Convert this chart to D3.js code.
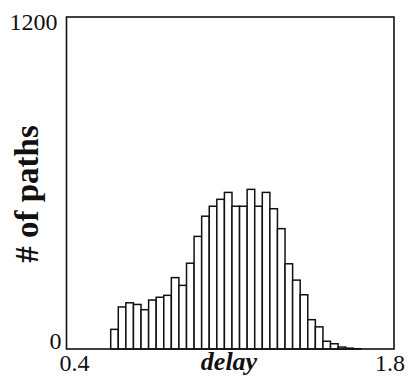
<!DOCTYPE html>
<html>
<head>
<meta charset="utf-8">
<script src="https://cdn.jsdelivr.net/npm/d3@7"></script>
<style>
  body { margin: 0; background: #fff; }
  svg text { font-family: "Liberation Serif", "DejaVu Serif", serif; fill: #111; }
</style>
</head>
<body>
<div id="chart"></div>
<script>
// histogram of path delays
const binStart = 0.589;
const binWidth = 0.0324;
const counts = [71, 152, 167, 161, 142, 177, 187, 194, 258, 230, 310, 407, 480, 516, 541, 566,
  516, 516, 577, 516, 566, 507, 435, 308, 249, 196, 106, 80, 28, 19, 7, 3, 1];
const xTicks = [0.4, 1.8];
const yTicks = [0, 1200];

const width = 409, height = 377;
const margin = { left: 66.5, right: 15, top: 17, bottom: 28 };

const svg = d3.select('#chart').append('svg')
  .attr('width', width)
  .attr('height', height);

const x = d3.scaleLinear().domain([0.4, 1.8]).range([margin.left, width - margin.right]);
const y = d3.scaleLinear().domain([0, 1200]).range([height - margin.bottom, margin.top]);

const bins = counts.map((c, i) => ({
  x0: binStart + i * binWidth,
  x1: binStart + (i + 1) * binWidth,
  n: c
}));

svg.selectAll('.bar')
  .data(bins)
  .enter()
  .append('rect')
  .attr('class', 'bar')
  .attr('x', d => x(d.x0))
  .attr('width', d => x(d.x1) - x(d.x0))
  .attr('y', d => y(d.n))
  .attr('height', d => y(0) - y(d.n))
  .attr('fill', '#fff')
  .attr('stroke', '#111')
  .attr('stroke-width', 1.5);

// frame
svg.append('rect')
  .attr('x', x(0.4))
  .attr('y', y(1200))
  .attr('width', x(1.8) - x(0.4))
  .attr('height', y(0) - y(1200))
  .attr('fill', 'none')
  .attr('stroke', '#111')
  .attr('stroke-width', 1.6);

// y labels: top one sits a bit below the frame line, bottom one on the axis
svg.selectAll('.ytick')
  .data(yTicks)
  .enter()
  .append('text')
  .attr('class', 'ytick')
  .attr('x', d => x(0.4) - (d ? 9 : 5))
  .attr('y', d => y(d) + (d ? 13 : 0))
  .attr('text-anchor', 'end')
  .attr('font-size', '24px')
  .text(d => d);

svg.selectAll('.xtick')
  .data(xTicks)
  .enter()
  .append('text')
  .attr('class', 'xtick')
  .attr('x', (d, i) => x(d) + (i ? -4 : 8))
  .attr('y', 371)
  .attr('text-anchor', 'middle')
  .attr('font-size', '24px')
  .text(d => d);

svg.append('text')
  .attr('x', 229)
  .attr('y', 370)
  .attr('text-anchor', 'middle')
  .attr('font-size', '26px')
  .attr('font-style', 'italic')
  .attr('font-weight', 'bold')
  .text('delay');

svg.append('text')
  .attr('transform', 'translate(38,194) rotate(-90)')
  .attr('text-anchor', 'middle')
  .attr('font-size', '33px')
  .attr('font-weight', 'bold')
  .text('# of paths');
</script>
</body>
</html>
